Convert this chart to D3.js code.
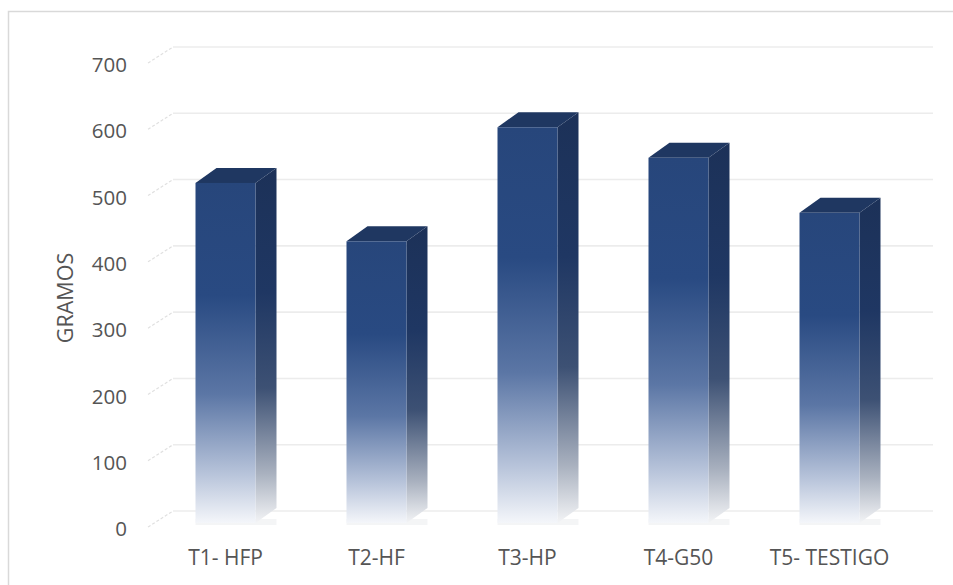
<!DOCTYPE html>
<html><head><meta charset="utf-8">
<script src="https://cdn.jsdelivr.net/npm/d3@7"></script>
<style>
html,body{margin:0;padding:0;background:#fff;}
svg{display:block;font-family:"Open Sans","Noto Sans",sans-serif;}
</style></head>
<body>
<svg id="c" width="953" height="585"></svg>
<script>
const categories = ["T1- HFP","T2-HF","T3-HP","T4-G50","T5- TESTIGO"];
const values = [513, 425, 597, 551, 468];
const tickValues = [0,100,200,300,400,500,600,700];
const yTitle = "GRAMOS";

const svg = d3.select("#c");
const W = 953, H = 585;

// chart border
svg.append("rect").attr("x",8.5).attr("y",11.5).attr("width",W+10).attr("height",H+10)
  .attr("fill","none").attr("stroke","#d9d9d9").attr("stroke-width",1.5);

// back-wall value scale
const y = d3.scaleLinear().domain([0,700]).range([511,47]);
const x = d3.scalePoint().domain(categories).range([150,905]).padding(0.5);

const depth = {dx:25, dy:16};      // front plane offset from back wall
const barDepth = {dx:21, dy:15};   // bar depth
const barFrontDy = 12;             // bar front face offset
const barW = 60;

const defs = svg.append("defs");
const gFront = defs.append("linearGradient").attr("id","gf").attr("x1",0).attr("y1",0).attr("x2",0).attr("y2",1);
[[0,"#27467b"],[0.33,"#294a82"],[0.62,"#5b76a5"],[0.86,"#b9c5db"],[1,"#f4f6fa"]]
  .forEach(([o,c])=>gFront.append("stop").attr("offset",o).attr("stop-color",c));
const gSide = defs.append("linearGradient").attr("id","gs").attr("x1",0).attr("y1",0).attr("x2",0).attr("y2",1);
[[0,"#1c3158"],[0.35,"#1f3763"],[0.62,"#3d5174"],[0.86,"#a9b1bf"],[1,"#f3f4f6"]]
  .forEach(([o,c])=>gSide.append("stop").attr("offset",o).attr("stop-color",c));

// gridlines
const grid = svg.append("g");
tickValues.forEach(v=>{
  const yb = y(v);
  grid.append("line").attr("x1",148).attr("y1",yb+depth.dy).attr("x2",148+depth.dx).attr("y2",yb)
    .attr("stroke","#e0e0e0").attr("stroke-width",1.2).attr("stroke-dasharray","3,2");
  grid.append("line").attr("x1",148+depth.dx).attr("y1",yb).attr("x2",933).attr("y2",yb)
    .attr("stroke","#ececec").attr("stroke-width",1.6);
});

// tick labels
svg.append("g").selectAll("text").data(tickValues).join("text")
  .attr("x",127).attr("y",d=>y(d)+18).attr("dy","0.35em")
  .attr("text-anchor","end").attr("font-size",20.5).attr("fill","#555")
  .text(d=>d);

// y title
svg.append("text").attr("transform","translate(65,298) rotate(-90)")
  .attr("text-anchor","middle").attr("dy","0.35em").attr("font-size",21.5).attr("fill","#555")
  .text(yTitle);

// bars
const bars = svg.append("g").selectAll("g").data(categories).join("g");
bars.each(function(c,i){
  const g = d3.select(this);
  const x0 = x(c) - barW/2, x1 = x0 + barW;
  const yt = y(values[i]) + barFrontDy, yb = y(0) + barFrontDy;
  const dx = barDepth.dx, dy = barDepth.dy;
  // floor shadow
  g.append("rect").attr("x",x0).attr("y",yb-4).attr("width",barW+dx).attr("height",6)
    .attr("fill","#f1f2f4").attr("opacity",0.8);
  // side
  g.append("path").attr("d",`M${x1},${yt}L${x1+dx},${yt-dy}L${x1+dx},${yb-dy}L${x1},${yb}Z`)
    .attr("fill","url(#gs)");
  // top
  g.append("path").attr("d",`M${x0},${yt}L${x0+dx},${yt-dy}L${x1+dx},${yt-dy}L${x1},${yt}Z`)
    .attr("fill","#1f3761");
  // front
  g.append("rect").attr("x",x0).attr("y",yt).attr("width",barW).attr("height",yb-yt)
    .attr("fill","url(#gf)");
});

// category labels
svg.append("g").selectAll("text").data(categories).join("text")
  .attr("x",d=>x(d)).attr("y",565).attr("text-anchor","middle")
  .attr("font-size",21).attr("fill","#555").text(d=>d);
</script>
</body></html>
